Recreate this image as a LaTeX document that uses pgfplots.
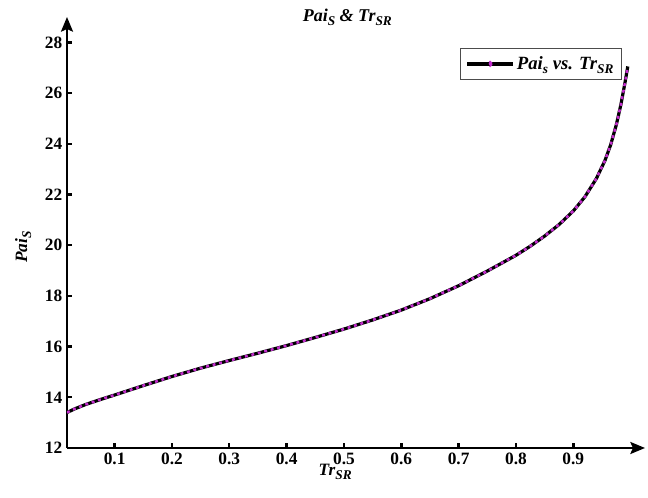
\documentclass[border=0pt]{standalone}
\usepackage{fontspec}
\setmainfont{Liberation Serif}
\usepackage{pgfplots}
\pgfplotsset{compat=1.18}
\usetikzlibrary{arrows.meta}
\definecolor{mag}{RGB}{195,45,205}
\newcommand\sub[2]{\raisebox{-0.5ex}{\fontsize{#1}{#1}\selectfont #2}}
\pgfplotstableread{
x y
0.017 13.40
0.03 13.54
0.05 13.72
0.075 13.91
0.1 14.09
0.15 14.46
0.2 14.82
0.25 15.15
0.3 15.45
0.35 15.74
0.4 16.04
0.45 16.36
0.5 16.69
0.55 17.05
0.6 17.44
0.65 17.89
0.7 18.40
0.75 18.98
0.8 19.60
0.825 19.96
0.85 20.36
0.875 20.81
0.9 21.35
0.92 21.90
0.94 22.62
0.955 23.33
0.965 23.95
0.975 24.75
0.983 25.55
0.99 26.40
0.995 27.05
}\datatable
\begin{document}
\begin{tikzpicture}
\begin{axis}[
 scale only axis, width=433.5pt, height=323.25pt,
 xmin=0.017, xmax=1.025, ymin=12, ymax=29,
 axis lines=left,
 axis line style={line width=1.8pt, -{Stealth[length=11pt,width=9pt,inset=2pt]}},
 tick align=inside,
 major tick length=3.5pt,
 tick style={line width=1.8pt, black},
 xtick={0.1,0.2,0.3,0.4,0.5,0.6,0.7,0.8,0.9},
 ytick={12,14,16,18,20,22,24,26,28},
 xticklabels={0.1,0.2,0.3,0.4,0.5,0.6,0.7,0.8,0.9},
 /pgf/number format/assume math mode=true,
 tick label style={font=\fontsize{13}{15}\selectfont\bfseries},
 every axis title shift=0pt,
 title={\textit{Pai}\sub{10}{S} \& \textit{Tr}\sub{10}{SR}},
 title style={at={(axis description cs:0.485,1)}, anchor=center, font=\fontsize{13.5}{15}\selectfont\bfseries\itshape},
 xlabel={\textit{Tr}\sub{10}{SR}},
 xlabel style={at={(axis description cs:0.464,-0.056)}, anchor=center, font=\fontsize{13}{15}\selectfont\bfseries\itshape},
 ylabel={\textit{Pai}\sub{10}{S}},
 ylabel style={at={(axis description cs:-0.076,0.466)}, anchor=center, font=\fontsize{13}{15}\selectfont\bfseries\itshape},
 legend style={at={(axis description cs:0.960,0.928)}, anchor=north east, draw=black!70, line width=0.6pt, font=\fontsize{14}{16}\selectfont\bfseries\itshape, inner xsep=4pt, inner ysep=4pt},
 legend cell align=left,
]
\addplot[black, line width=2.4pt, forget plot] table[x=x,y=y] {\datatable};
\addplot[mag, line width=1.9pt, dash pattern=on 2.2pt off 2.8pt,
  legend image code/.code={\draw[black,line width=2.4pt,solid] (0pt,0pt) -- (34pt,0pt); \fill[mag] (17pt,0pt) circle (1.2pt);}
 ] table[x=x,y=y] {\datatable};
\addlegendentry{Pai\sub{10}{s} vs. Tr\sub{10}{SR}}
\end{axis}
\pgfresetboundingbox
\path (-50.25pt,-37.5pt) rectangle (435.75pt,336pt);
\end{tikzpicture}
\end{document}
